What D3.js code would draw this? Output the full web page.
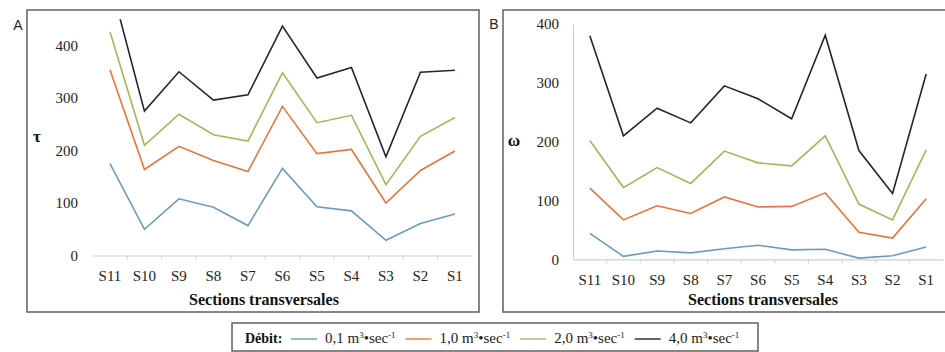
<!DOCTYPE html>
<html><head><meta charset="utf-8">
<script src="https://cdn.jsdelivr.net/npm/d3@7"></script>
<style>
html,body{margin:0;padding:0;background:#fff;}
</style></head>
<body><svg id="chart" width="945" height="352"></svg>
<script>
const categories = ["S11","S10","S9","S8","S7","S6","S5","S4","S3","S2","S1"];
const seriesNames = ["0,1","1,0","2,0","4,0"];
const seriesColors = ["#6a9cc0","#e8743b","#9cbb5a","#2e1f36"];
const yTicksA = [0,100,200,300,400];
const yTicksB = [0,100,200,300,400];
// Panel A: tau
const tauQ01 = [175,50,108,92,57,166,93,85,29,61,79];
const tauQ10 = [354,164,208,181,160,284,194,202,100,162,199];
const tauQ20 = [426,210,269,230,218,348,253,267,135,227,263];
const tauQ40 = [524,275,350,296,306,437,338,358,188,349,353];
// Panel B: omega
const omegaQ01 = [44,5,14,11,18,24,16,17,2,6,21];
const omegaQ10 = [121,67,91,78,106,89,90,113,46,36,103];
const omegaQ20 = [202,122,156,129,184,164,159,210,94,67,186];
const omegaQ40 = [380,210,257,232,295,273,239,381,185,112,315];

const SERIF = "'Liberation Serif', 'Times New Roman', serif";
const SANS = "'Liberation Sans', Arial, sans-serif";
const svg = d3.select("#chart");

function panel(cfg){
  const g = svg.append("g");
  g.append("rect").attr("x",cfg.box[0]).attr("y",cfg.box[1])
    .attr("width",cfg.box[2]).attr("height",cfg.box[3])
    .attr("fill","none").attr("stroke","#555").attr("stroke-width",1.4);
  g.append("text").attr("x",cfg.letterPos[0]).attr("y",cfg.letterPos[1])
    .style("font-family",SANS).style("font-size","14px")
    .attr("fill","#222").attr("text-anchor","middle").text(cfg.letter);

  const x = d3.scaleBand().domain(categories).range(cfg.xRange);
  const y = d3.scaleLinear().domain([0,cfg.yMax]).range(cfg.yRange);

  const xa = g.append("g").attr("transform",`translate(0,${y(0)})`)
    .call(d3.axisBottom(x).tickSize(0).tickPadding(15));
  xa.select(".domain").attr("stroke","#d0d0d0").attr("stroke-width",1.2);
  xa.selectAll("text").style("font-family",SERIF).style("font-size","15px").attr("fill","#222");
  g.selectAll(".sep").data(categories.slice(1)).join("line")
    .attr("x1",d=>x(d)).attr("x2",d=>x(d))
    .attr("y1",y(0)).attr("y2",y(0)+4)
    .attr("stroke","#d0d0d0");

  const ya = g.append("g").attr("transform",`translate(${cfg.yAxisX},0)`)
    .call(d3.axisLeft(y).tickValues(cfg.yTicks).tickSize(0).tickPadding(cfg.yPad));
  ya.selectAll("text").style("font-family",SERIF).style("font-size","15px").attr("fill","#222");
  if(cfg.showYLine){
    ya.select(".domain").attr("stroke","#d0d0d0").attr("stroke-width",1.2);
  } else {
    ya.select(".domain").remove();
  }

  g.append("text").attr("x",cfg.ylabPos[0]).attr("y",cfg.ylabPos[1])
    .style("font-family",SERIF).style("font-size","17px").style("font-weight","bold")
    .attr("fill","#111").attr("text-anchor","middle").text(cfg.ylab);
  g.append("text").attr("x",cfg.xlabX).attr("y",305)
    .style("font-family",SERIF).style("font-size","16px").style("font-weight","bold")
    .attr("fill","#111").attr("text-anchor","middle").text("Sections transversales");

  const cid = "clip"+cfg.letter;
  svg.append("clipPath").attr("id",cid).append("rect")
    .attr("x",cfg.xRange[0]-20).attr("y",y(cfg.yMax))
    .attr("width",cfg.xRange[1]-cfg.xRange[0]+40).attr("height",y(0)-y(cfg.yMax)+5);

  const line = d3.line().x((d,i)=>x(categories[i])+x.bandwidth()/2).y(d=>y(d));
  g.append("g").attr("clip-path",`url(#${cid})`)
    .selectAll("path").data(cfg.series).join("path")
    .attr("d",d=>line(d)).attr("fill","none")
    .attr("stroke",(d,i)=>seriesColors[i]).attr("stroke-width",1.6)
    .attr("stroke-linejoin","miter");
}

panel({letter:"A", box:[27,10,452,302], letterPos:[18,30],
  xRange:[92.7,472.2], yMax:450, yRange:[255.5,19.25], yTicks:yTicksA,
  yAxisX:78, yPad:0, showYLine:false, ylab:"τ", ylabPos:[37,142], xlabX:264,
  series:[tauQ01,tauQ10,tauQ20,tauQ40]});

panel({letter:"B", box:[503,10,450,302], letterPos:[494,29],
  xRange:[573,943], yMax:400, yRange:[259.3,24.1], yTicks:yTicksB,
  yAxisX:573, yPad:14, showYLine:true, ylab:"ω", ylabPos:[514,146], xlabX:763,
  series:[omegaQ01,omegaQ10,omegaQ20,omegaQ40]});

// legend
const lg = svg.append("g");
lg.append("rect").attr("x",232).attr("y",323).attr("width",526).attr("height",28)
  .attr("fill","#fff").attr("stroke","#555").attr("stroke-width",1.4);
lg.append("text").attr("x",245).attr("y",343)
  .style("font-family",SERIF).style("font-size","14px").style("font-weight","bold")
  .attr("fill","#111").text("Débit:");
let cx = 291;
seriesNames.forEach((name,i)=>{
  const it = lg.append("g");
  it.append("line").attr("x1",cx).attr("x2",cx+26).attr("y1",339).attr("y2",339)
    .attr("stroke",seriesColors[i]).attr("stroke-width",1.4);
  const t = it.append("text").attr("x",cx+34).attr("y",343)
    .style("font-family",SERIF).style("font-size","15px").attr("fill","#222");
  t.append("tspan").text(name+" m");
  t.append("tspan").style("font-size","9px").attr("dy",-5).text("3");
  t.append("tspan").attr("dy",5).text("•sec");
  t.append("tspan").style("font-size","9px").attr("dy",-5).text("-1");
  cx = cx + 34 + t.node().getComputedTextLength() + 10;
});
</script></body></html>
